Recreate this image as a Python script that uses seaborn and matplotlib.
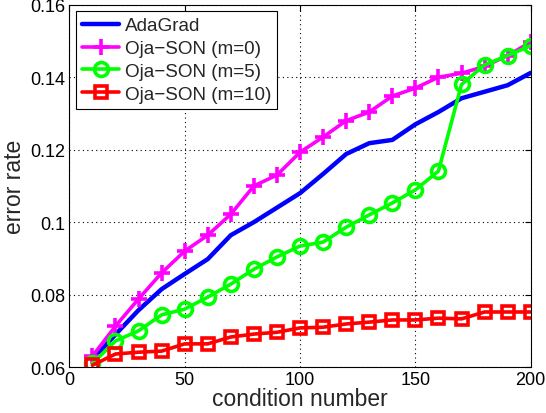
import matplotlib
matplotlib.use('Agg')
import matplotlib.pyplot as plt
import seaborn as sns
import numpy as np

# condition numbers on the x axis
cond = [10, 20, 30, 40, 50, 60, 70, 80, 90, 100,
        110, 120, 130, 140, 150, 160, 170, 180, 190, 200]

# error rates
adagrad = [0.062, 0.069, 0.0757, 0.0815, 0.0857, 0.0898, 0.0964, 0.1, 0.104, 0.108,
           0.1133, 0.1188, 0.1218, 0.1227, 0.127, 0.1304, 0.1342, 0.136, 0.1378, 0.1412]
oja_m0 = [0.063, 0.0713, 0.0788, 0.086, 0.092, 0.0964, 0.1022, 0.11, 0.113, 0.1193,
          0.1235, 0.128, 0.1304, 0.1348, 0.137, 0.14, 0.1411, 0.143, 0.146, 0.1497]
oja_m5 = [0.061, 0.0672, 0.07, 0.0744, 0.076, 0.0793, 0.0829, 0.087, 0.0904, 0.0934,
          0.0945, 0.0986, 0.102, 0.1053, 0.1089, 0.1141, 0.138, 0.1434, 0.146, 0.1487]
oja_m10 = [0.0605, 0.0636, 0.0641, 0.0644, 0.0664, 0.0664, 0.0683, 0.0691, 0.0696, 0.0708,
           0.071, 0.0719, 0.0724, 0.073, 0.073, 0.0735, 0.0733, 0.0752, 0.0752, 0.0752]

labels = ['AdaGrad', 'Oja\u2212SON (m=0)', 'Oja\u2212SON (m=5)', 'Oja\u2212SON (m=10)']

sns.set_style('white')
plt.rcParams['font.family'] = ['Liberation Sans', 'DejaVu Sans']

fig = plt.figure(figsize=(5.46, 4.14), dpi=100)
ax = fig.add_axes([0.127, 0.111, 0.845, 0.875])

lw = 2.6
sns.lineplot(x=cond, y=adagrad, ax=ax, color='#0000ff', linewidth=3.2, label=labels[0])
sns.lineplot(x=cond, y=oja_m0, ax=ax, color='#ff00ff', linewidth=lw, marker='+',
             markersize=11, markeredgewidth=2.6, markeredgecolor='#ff00ff', label=labels[1])
sns.lineplot(x=cond, y=oja_m5, ax=ax, color='#00ff00', linewidth=lw, marker='o',
             markersize=10, markeredgewidth=2.6, markeredgecolor='#00ff00',
             markerfacecolor='none', label=labels[2])
sns.lineplot(x=cond, y=oja_m10, ax=ax, color='#ff0000', linewidth=lw, marker='s',
             markersize=9, markeredgewidth=2.6, markeredgecolor='#ff0000',
             markerfacecolor='none', label=labels[3])

ax.set_xlim(0, 200)
ax.set_ylim(0.06, 0.16)
ax.set_xticks([0, 50, 100, 150, 200])
ax.set_yticks([0.06, 0.08, 0.1, 0.12, 0.14, 0.16])
ax.set_yticklabels(['0.06', '0.08', '0.1', '0.12', '0.14', '0.16'])

ax.grid(True, color='black', linestyle=(0, (1, 3)), linewidth=0.8)
ax.tick_params(direction='in', length=4, width=0.8, top=True, right=True,
               labelsize=13, colors='black', pad=3)
for s in ax.spines.values():
    s.set_color('black')
    s.set_linewidth(0.8)

ax.set_xlabel('condition number', fontsize=16.5, labelpad=-1)
ax.set_ylabel('error rate', fontsize=16.5, labelpad=3)

leg = ax.legend(loc='upper left', fontsize=13.6, frameon=True, fancybox=False,
                edgecolor='black', framealpha=1, handlelength=2.0,
                borderaxespad=0.35, labelspacing=0.3, handletextpad=0.3,
                borderpad=0.3)
leg.get_frame().set_linewidth(0.8)

fig.savefig('out.png', dpi=100, facecolor='white')
